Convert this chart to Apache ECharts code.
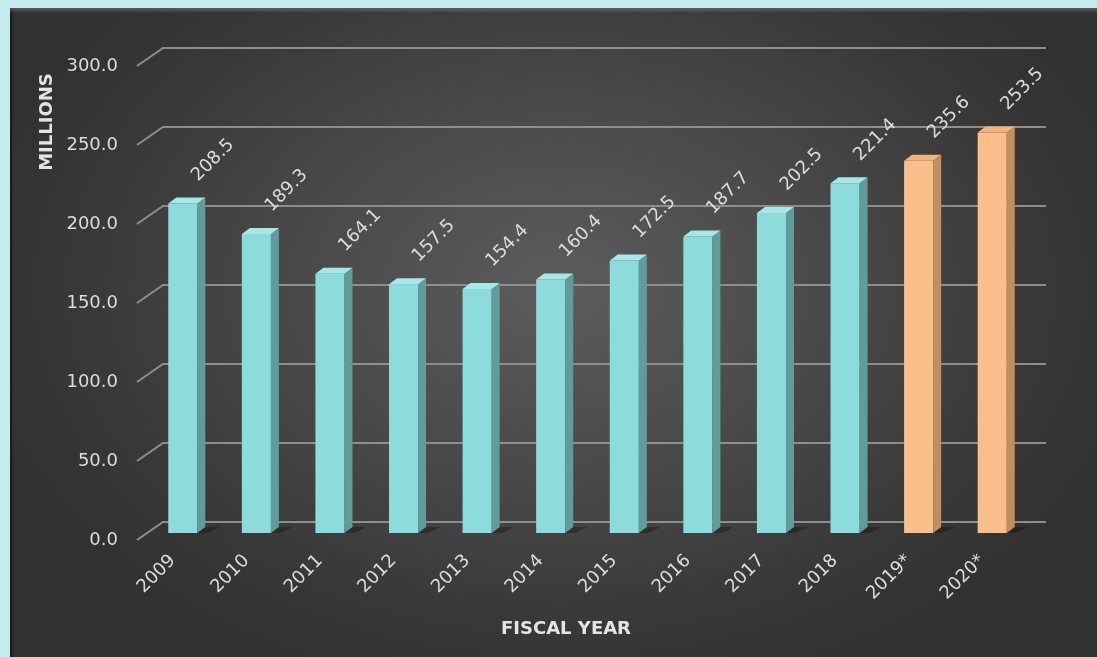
<!DOCTYPE html>
<html>
<head>
<meta charset="utf-8">
<script src="https://cdn.jsdelivr.net/npm/echarts@6/dist/echarts.min.js"></script>
<style>
  html, body { margin: 0; padding: 0; width: 1097px; height: 657px; overflow: hidden; background: #c4ecee; }
  #panel {
    position: absolute; left: 10px; top: 8px; width: 1087px; height: 649px;
    background: radial-gradient(ellipse 600px 420px at 550px 280px, #5c5c5c 0%, #494949 45%, #383838 80%, #313131 100%);
    box-shadow: inset 0 6px 3px -3px rgba(120,120,120,0.55), inset 3px 0 2px -1px rgba(0,0,0,0.5);
  }
  #chart { position: absolute; left: 0; top: 0; width: 1097px; height: 657px; }
</style>
</head>
<body>
<div id="panel"></div>
<div id="chart"></div>
<script>
// Fiscal years and totals (millions); starred years are projections
const years = ['2009', '2010', '2011', '2012', '2013', '2014', '2015', '2016', '2017', '2018', '2019*', '2020*'];
const totals = [208.5, 189.3, 164.1, 157.5, 154.4, 160.4, 172.5, 187.7, 202.5, 221.4, 235.6, 253.5];
const projected = [false, false, false, false, false, false, false, false, false, false, true, true];
const yTicks = [0, 50, 100, 150, 200, 250, 300];

const FONT = 'DejaVu Sans, Verdana, sans-serif';
const TEXT = '#dcdcdc';
const DEPTH_X = 8, DEPTH_Y = 6;       // bar depth
const WALL_X = 26, WALL_Y = 18;       // back wall depth for gridlines

const palette = {
  actual:    { front: '#8cdcdb', side: '#5f9c9b', top: '#a4e9e7' },
  projected: { front: '#f9bf8b', side: '#c28e5f', top: '#f3b37c' }
};

const chart = echarts.init(document.getElementById('chart'), null, { renderer: 'canvas' });

function renderBar(params, api) {
  const i = api.value(0);
  const v = api.value(1);
  const base = api.coord([i, 0]);
  const top = api.coord([i, v]);
  const band = api.size([1, 0])[0];
  const w = band * 0.395;
  const x0 = base[0] - w / 2, x1 = base[0] + w / 2;
  const c = projected[params.dataIndex] ? palette.projected : palette.actual;
  return {
    type: 'group',
    children: [
      { // floor shadow
        type: 'polygon',
        shape: { points: [[x1 - 2, base[1]], [x1 + DEPTH_X, base[1] - DEPTH_Y], [x1 + DEPTH_X + 14, base[1] - DEPTH_Y], [x1 + 10, base[1]]] },
        style: { fill: 'rgba(0,0,0,0.28)' }
      },
      { type: 'rect', shape: { x: x0, y: top[1], width: w, height: base[1] - top[1] }, style: { fill: c.front } },
      { type: 'polygon',
        shape: { points: [[x1, top[1]], [x1 + DEPTH_X, top[1] - DEPTH_Y], [x1 + DEPTH_X, base[1] - DEPTH_Y], [x1, base[1]]] },
        style: { fill: c.side } },
      { type: 'polygon',
        shape: { points: [[x0, top[1]], [x0 + DEPTH_X, top[1] - DEPTH_Y], [x1 + DEPTH_X, top[1] - DEPTH_Y], [x1, top[1]]] },
        style: { fill: c.top } },
      { type: 'text',
        x: base[0] + 12, y: top[1] - 25, rotation: Math.PI / 4,
        style: { text: v.toFixed(1), fill: TEXT, font: '18px ' + FONT, align: 'left', verticalAlign: 'middle' } }
    ]
  };
}

function renderGridline(params, api) {
  const v = api.value(0);
  const front = api.coord([0, v]);
  const right = api.coord([1, v]);
  return {
    type: 'polyline',
    shape: { points: [front, [front[0] + WALL_X, front[1] - WALL_Y], [right[0] + WALL_X, right[1] - WALL_Y]] },
    style: { stroke: '#8e8e8e', lineWidth: 2, fill: null }
  };
}

chart.setOption({
  backgroundColor: 'transparent',
  animation: false,
  grid: [
    { left: 146, right: 68, top: 59, height: 474 },   // bars
    { left: 137, right: 77, top: 66, height: 474 }    // value axis + gridlines
  ],
  xAxis: [
    { gridIndex: 0, type: 'category', data: years,
      axisLine: { show: false }, axisTick: { show: false },
      axisLabel: { rotate: 45, margin: 15, color: TEXT, fontSize: 18, fontFamily: FONT, interval: 0, padding: [0, 14, 0, 0] } },
    { gridIndex: 1, type: 'value', min: 0, max: 1, show: false }
  ],
  yAxis: [
    { gridIndex: 0, type: 'value', min: 0, max: 300, interval: 50, show: false },
    { gridIndex: 1, type: 'value', min: 0, max: 300, interval: 50,
      axisLine: { show: false }, axisTick: { show: false }, splitLine: { show: false },
      axisLabel: { margin: 19, color: TEXT, fontSize: 18, fontFamily: FONT, formatter: v => v.toFixed(1) } }
  ],
  graphic: [
    { type: 'text', x: 47, y: 122, rotation: Math.PI / 2,
      style: { text: 'MILLIONS', fill: '#e4e4e4', font: 'bold 18px ' + FONT, align: 'center', verticalAlign: 'middle' } },
    { type: 'text', x: 566, y: 629,
      style: { text: 'FISCAL YEAR', fill: '#e4e4e4', font: 'bold 18px ' + FONT, align: 'center', verticalAlign: 'middle' } }
  ],
  series: [
    { type: 'custom', xAxisIndex: 1, yAxisIndex: 1, z: 1, silent: true,
      data: yTicks.map(t => [t]), encode: { y: 0 }, renderItem: renderGridline },
    { type: 'custom', xAxisIndex: 0, yAxisIndex: 0, z: 3,
      data: totals.map((v, i) => [i, v]), encode: { x: 0, y: 1 }, renderItem: renderBar }
  ]
});
</script>
</body>
</html>
